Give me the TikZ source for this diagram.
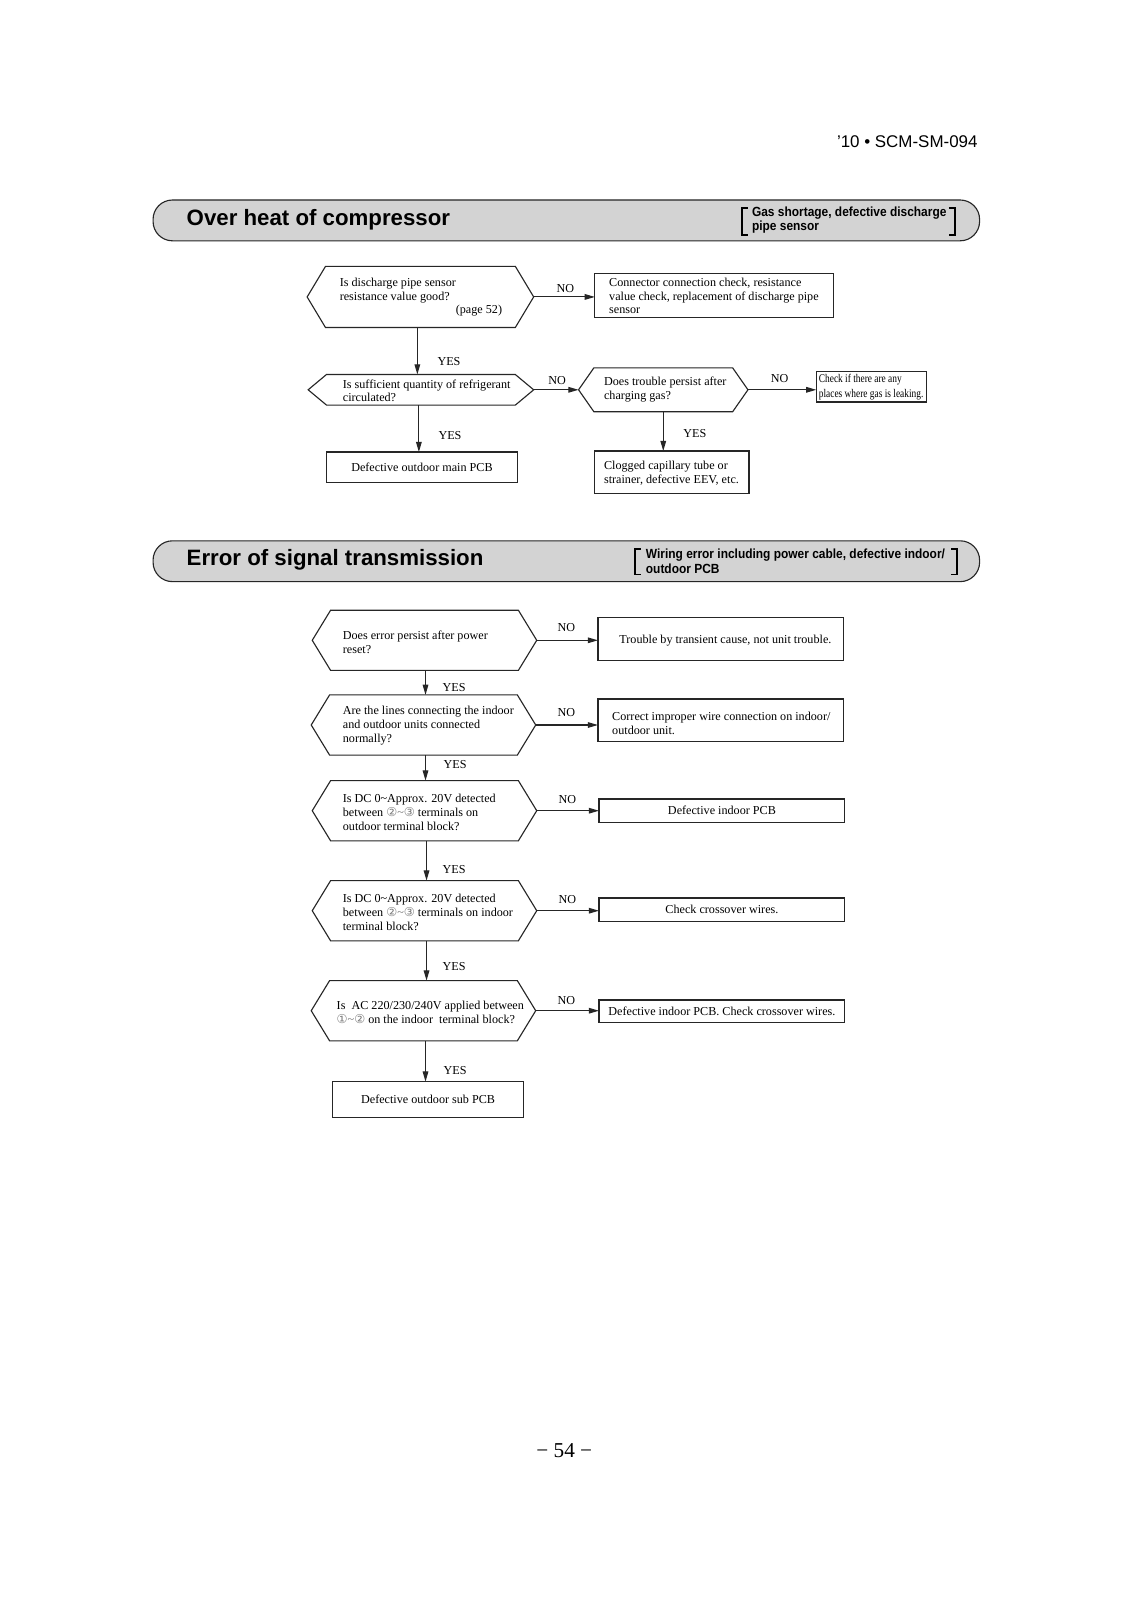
\documentclass[tikz,border=0pt]{standalone}
\usepackage{fontspec}
\setmainfont{Liberation Serif}
\setsansfont{Liberation Sans}
\newfontfamily\dejavu{DejaVu Sans}
\newfontfamily\narrowserif[FakeStretch=0.8]{Liberation Serif}
\newfontfamily\narrowsans[FakeStretch=0.9]{Liberation Sans}
\usetikzlibrary{arrows.meta,calc}
\definecolor{headgray}{HTML}{D3D3D3}
\definecolor{linegray}{HTML}{262626}
\definecolor{circgray}{HTML}{7A7A7A}
\newcommand\myCirA{{\dejavu\fontsize{12}{12}\selectfont\color{circgray}①}}
\newcommand\myCirB{{\dejavu\fontsize{12}{12}\selectfont\color{circgray}②}}
\newcommand\myCirC{{\dejavu\fontsize{12}{12}\selectfont\color{circgray}③}}
\newcommand\myTld{{\color{circgray}\textasciitilde}}
\newcommand\hexdraw[2]{\draw[shapeline] (#1.west) -- ($(#1.north west)+(#2,0)$) -- ($(#1.north east)+(-#2,0)$) -- (#1.east) -- ($(#1.south east)+(-#2,0)$) -- ($(#1.south west)+(#2,0)$) -- cycle;}
\tikzset{
  every node/.style={inner sep=0pt, outer sep=0pt},
  shapeline/.style={draw=linegray, line width=1.1pt},
  box/.style={draw=linegray, line width=1.1pt, fill=white},
  hexcore/.style={inner sep=0pt},
  txt/.style={font=\fontsize{11.9}{13.5}\selectfont, align=left, anchor=west},
  ctxt/.style={font=\fontsize{11.9}{13.5}\selectfont},
  lbl/.style={font=\fontsize{11.9}{13}\selectfont},
  conn/.style={draw=linegray, line width=1.1pt, -{Triangle[length=10pt,width=5.5pt]}},
  header/.style={draw=linegray, line width=1.1pt, fill=headgray, rounded corners=19pt, minimum width=810pt, minimum height=40pt},
  htitle/.style={font=\sffamily\bfseries\fontsize{21.8}{24}\selectfont, anchor=west},
  hsub/.style={font=\narrowsans\bfseries\fontsize{13}{14}\selectfont, align=left, anchor=west},
  brk/.style={draw=black, line width=1.7pt},
}
\begin{document}
\begin{tikzpicture}[x=1pt,y=-1pt]
\useasboundingbox[fill=white] (0,0) rectangle (1131,1600);
\begin{scope}[transform canvas={scale=1.0204}]

% page header
\node[font=\sffamily\fontsize{16.6}{18}\selectfont, anchor=base east] (doc) at (958,145) {'10 • SCM-SM-094};

% ===== Header 1 =====
\node[header] (h1) at (555,216) {};
\node[htitle] (h1t) at (183,215) {Over heat of compressor};
\node[hsub] (h1s) at (737,216) {Gas shortage, defective discharge\\pipe sensor};
\draw[brk] (733,204) -- (727,204) -- (727,230) -- (733,230);
\draw[brk] (930,204) -- (936,204) -- (936,230) -- (930,230);

% ===== Flowchart 1 =====
\node[hexcore, minimum width=222pt, minimum height=60pt] (d1) at (412,291) {};
\hexdraw{d1}{18}
\node[txt] (d1t) at (333,284.5) {Is discharge pipe sensor\\resistance value good?};
\node[ctxt, anchor=east] (d1p) at (492,304.5) {(page 52)};

\node[box, minimum width=234pt, minimum height=43pt] (b1) at (700,289.5) {};
\node[txt] (b1t) at (597,290) {Connector connection check, resistance\\value check, replacement of discharge pipe\\sensor};

\node[hexcore, minimum width=221pt, minimum height=30pt] (d2) at (412.5,382) {};
\hexdraw{d2}{18}
\node[txt] (d2t) at (336,383) {Is sufficient quantity of refrigerant\\circulated?};

\node[hexcore, minimum width=166pt, minimum height=43pt] (d3) at (650,382) {};
\hexdraw{d3}{15}
\node[txt] (d3t) at (592,382) {Does trouble persist after\\charging gas?};

\node[box, minimum width=108pt, minimum height=30pt] (b3) at (854,379) {};
\node[font=\narrowserif\fontsize{11.5}{14}\selectfont, align=left, anchor=west] (b3t) at (802.5,379.5) {Check if there are any\\places where gas is leaking.};

\node[box, minimum width=187pt, minimum height=30pt, ctxt] (b2) at (413.5,458) {Defective outdoor main PCB};

\node[box, minimum width=151pt, minimum height=42pt] (b4) at (658.5,463) {};
\node[txt] (b4t) at (592,463.5) {Clogged capillary tube or\\strainer, defective EEV, etc.};

\draw[conn] (d1.east) -- (d1.east -| b1.west);
\node[lbl] (l1) at (554,283) {NO};
\draw[conn] ([xshift=-3pt]d1.south) -- ([xshift=-3pt]d1.south |- d2.north);
\node[lbl] (l2) at (440,354) {YES};
\draw[conn] (d2.east) -- (d3.west);
\node[lbl] (l3) at (546,373) {NO};
\draw[conn] (d3.east) -- (d3.east -| b3.west);
\node[lbl] (l4) at (764,371) {NO};
\draw[conn] ([xshift=-2pt]d2.south) -- ([xshift=-2pt]d2.south |- b2.north);
\node[lbl] (l5) at (441,427) {YES};
\draw[conn] (d3.south) -- (d3.south |- b4.north);
\node[lbl] (l6) at (681,425) {YES};

% ===== Header 2 =====
\node[header] (h2) at (555,550) {};
\node[htitle] (h2t) at (183,549) {Error of signal transmission};
\node[hsub] (h2s) at (633,550) {Wiring error including power cable, defective indoor/\\outdoor PCB};
\draw[brk] (628,538) -- (622,538) -- (622,563) -- (628,563);
\draw[brk] (932,538) -- (938,538) -- (938,563) -- (932,563);

% ===== Flowchart 2 =====
\node[hexcore, minimum width=220pt, minimum height=59pt] (e1) at (416,627.5) {};
\hexdraw{e1}{18}
\node[txt] (e1t) at (336,629.5) {Does error persist after power\\reset?};
\node[box, minimum width=241pt, minimum height=42pt] (r1) at (706.5,626) {};
\node[txt] (r1t) at (607,628) {Trouble by transient cause, not unit trouble.};

\node[hexcore, minimum width=220pt, minimum height=59pt] (e2) at (415,710.5) {};
\hexdraw{e2}{18}
\node[txt] (e2t) at (336,711) {Are the lines connecting the indoor\\and outdoor units connected\\normally?};
\node[box, minimum width=241pt, minimum height=42pt] (r2) at (706.5,706) {};
\node[txt] (r2t) at (600,709) {Correct improper wire connection on indoor/\\outdoor unit.};

\node[hexcore, minimum width=220pt, minimum height=59pt] (e3) at (416,794.5) {};
\hexdraw{e3}{18}
\node[txt] (e3t) at (336,796) {Is DC 0\textasciitilde Approx. 20V detected\\between \myCirB\myTld\myCirC{} terminals on\\outdoor terminal block?};
\node[box, minimum width=241pt, minimum height=23pt, ctxt] (r3) at (707.5,794.5) {Defective indoor PCB};

\node[hexcore, minimum width=220pt, minimum height=59pt] (e4) at (416,892.5) {};
\hexdraw{e4}{18}
\node[txt] (e4t) at (336,894) {Is DC 0\textasciitilde Approx. 20V detected\\between \myCirB\myTld\myCirC{} terminals on indoor\\terminal block?};
\node[box, minimum width=241pt, minimum height=23pt, ctxt] (r4) at (707.5,891.5) {Check crossover wires.};

\node[hexcore, minimum width=220pt, minimum height=59pt] (e5) at (415,990.5) {};
\hexdraw{e5}{18}
\node[txt] (e5t) at (330,992) {Is\ \ AC 220/230/240V applied between\\\myCirA\myTld\myCirB{} on the indoor\ \ terminal block?};
\node[box, minimum width=241pt, minimum height=22pt, ctxt] (r5) at (707.5,991) {Defective indoor PCB. Check crossover wires.};

\node[box, minimum width=187pt, minimum height=35pt, ctxt] (b6) at (419.5,1077.5) {Defective outdoor sub PCB};

\draw[conn] (e1.east) -- (e1.east -| r1.west);
\node[lbl] (m1) at (555,615) {NO};
\draw[conn] ([xshift=1pt]e1.south) -- ([xshift=1pt]e1.south |- e2.north);
\node[lbl] (m2) at (445,674) {YES};
\draw[conn] (e2.east) -- (e2.east -| r2.west);
\node[lbl] (m3) at (555,698) {NO};
\draw[conn] ([xshift=2pt]e2.south) -- ([xshift=2pt]e2.south |- e3.north);
\node[lbl] (m4) at (446,749) {YES};
\draw[conn] (e3.east) -- (e3.east -| r3.west);
\node[lbl] (m5) at (556,784) {NO};
\draw[conn] ([xshift=2pt]e3.south) -- ([xshift=2pt]e3.south |- e4.north);
\node[lbl] (m6) at (445,852) {YES};
\draw[conn] (e4.east) -- (e4.east -| r4.west);
\node[lbl] (m7) at (556,882) {NO};
\draw[conn] ([xshift=2pt]e4.south) -- ([xshift=2pt]e4.south |- e5.north);
\node[lbl] (m8) at (445,947) {YES};
\draw[conn] (e5.east) -- (e5.east -| r5.west);
\node[lbl] (m9) at (555,981) {NO};
\draw[conn] ([xshift=2pt]e5.south) -- ([xshift=2pt]e5.south |- b6.north);
\node[lbl] (m10) at (446,1049) {YES};

% page number
\node[font=\fontsize{20.8}{22}\selectfont, anchor=base] (pg) at (553,1428) {− 54 −};
\end{scope}
\end{tikzpicture}
\end{document}
